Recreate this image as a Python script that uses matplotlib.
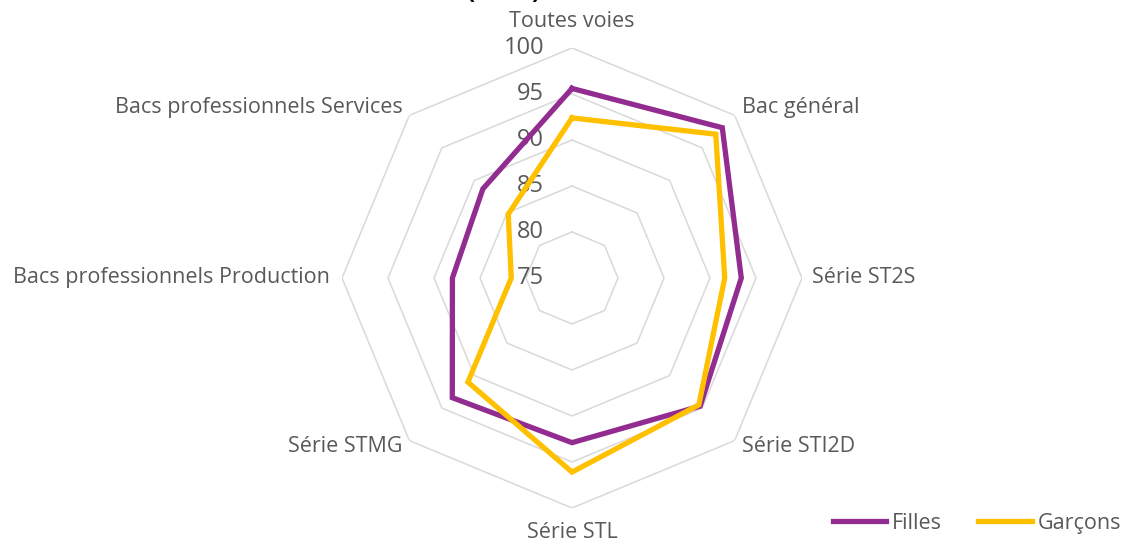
import matplotlib
matplotlib.use("Agg")
import matplotlib.pyplot as plt
import numpy as np

categories = [
    "Toutes voies",
    "Bac général",
    "Série ST2S",
    "Série STI2D",
    "Série STL",
    "Série STMG",
    "Bacs professionnels Production",
    "Bacs professionnels Services",
]
filles = [95.6, 98.1, 93.4, 94.7, 92.9, 93.4, 88.0, 88.7]
garcons = [92.4, 97.1, 91.6, 94.5, 96.1, 91.0, 81.6, 84.8]
grid_levels = [80, 85, 90, 95, 100]
tick_levels = [75, 80, 85, 90, 95, 100]

PURPLE = "#922C90"
GOLD = "#FFC000"
GRID = "#D9D9D9"
TEXT = "#595959"

plt.rcParams["font.family"] = ["Open Sans", "DejaVu Sans"]

fig = plt.figure(figsize=(11.25, 5.44), dpi=100)
ax = fig.add_axes([0.304, 0.0662, 0.4089, 0.8456], projection="polar")
ax.set_theta_zero_location("N")
ax.set_theta_direction(-1)
ax.set_ylim(75, 100)
ax.grid(False)
ax.spines["polar"].set_visible(False)
ax.set_xticks([])
ax.set_yticks([])
ax.patch.set_alpha(0)

n = len(categories)
angles = np.linspace(0, 2 * np.pi, n, endpoint=False)
closed = np.append(angles, angles[0])

# octagon grid
for level in grid_levels:
    ax.plot(closed, [level] * (n + 1), color=GRID, lw=1.1, zorder=1)

for level in tick_levels:
    ax.annotate(str(level), xy=(0, level), xytext=(-20, 0), textcoords="offset points",
                ha="right", va="center", fontsize=17, color=TEXT, zorder=2)

ax.plot(closed, filles + filles[:1], color=PURPLE, lw=3.8, zorder=3,
        solid_joinstyle="miter", label="Filles")
ax.plot(closed, garcons + garcons[:1], color=GOLD, lw=3.8, zorder=4,
        solid_joinstyle="miter", label="Garçons")

label_offsets = [
    ((0, 19), "center"),
    ((5, 6), "left"),
    ((7, 0), "left"),
    ((5, -4), "left"),
    ((0, -18), "center"),
    ((-5, -4), "right"),
    ((-9, 0), "right"),
    ((-5, 6), "right"),
]
for ang, name, (off, ha) in zip(angles, categories, label_offsets):
    ax.annotate(name, xy=(ang, 100), xytext=off, textcoords="offset points",
                ha=ha, va="center", fontsize=15.5, color=TEXT, annotation_clip=False)

# title cut off at the top of the picture, only the bottoms of the brackets show
fig.text(0.448, 1.0 + 1 / 544, "(en %)", ha="center", va="baseline", fontsize=17,
         fontweight="bold", color="black")

fig.legend(loc="lower right", bbox_to_anchor=(1.008, -0.005), ncol=2, frameon=False,
           fontsize=15.5, labelcolor=TEXT, handlelength=2.5, handletextpad=0.25,
           columnspacing=1.7, borderaxespad=0.2)

fig.savefig("out.png", dpi=100)
